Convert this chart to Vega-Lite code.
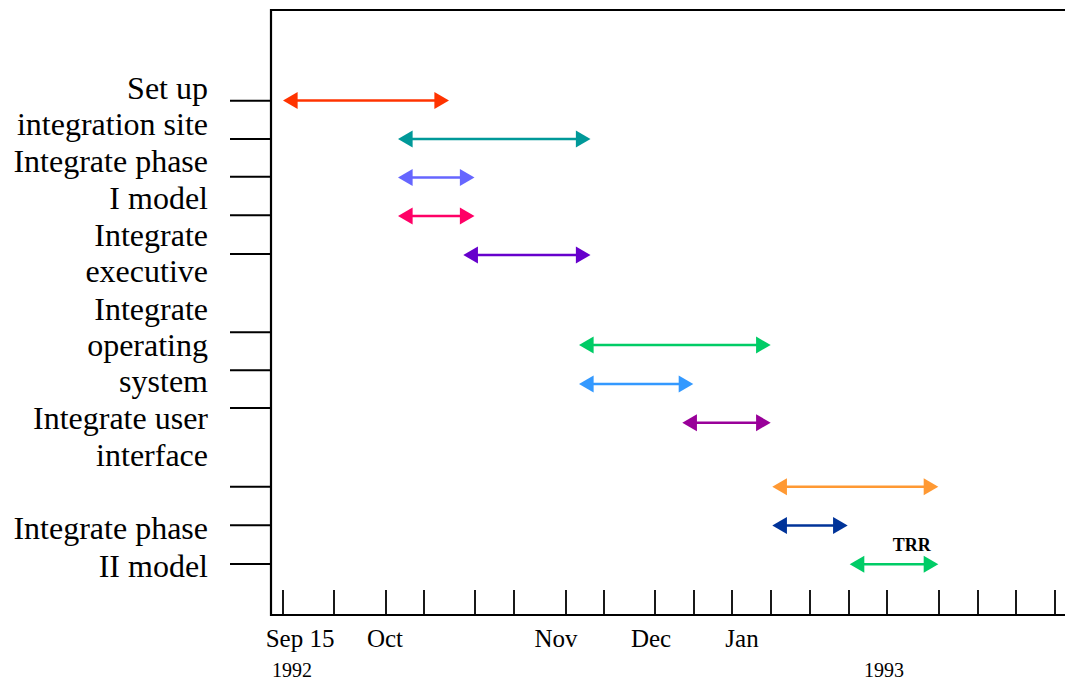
{
  "$schema": "https://vega.github.io/schema/vega-lite/v6.json",
  "autosize": {"type": "none"},
  "padding": {"left": 271, "top": 10, "right": 0, "bottom": 66},
  "width": 794,
  "height": 605,
  "config": {"view": {"stroke": null}, "font": "Liberation Serif"},
  "datasets": {
    "tasks": [
      {"task": "Set up integration site", "start": 12, "end": 178, "row": 90.5, "color": "#FF3300"},
      {"task": "Integrate phase I model (a)", "start": 127, "end": 319.5, "row": 129, "color": "#009999"},
      {"task": "Integrate phase I model (b)", "start": 127, "end": 203.5, "row": 167.5, "color": "#6666FF"},
      {"task": "Integrate phase I model (c)", "start": 127, "end": 203.5, "row": 206, "color": "#FF0066"},
      {"task": "Integrate executive", "start": 192.3, "end": 319.5, "row": 245, "color": "#6600CC"},
      {"task": "Integrate operating system", "start": 308, "end": 499.7, "row": 335, "color": "#00CC66"},
      {"task": "Integrate operating system (b)", "start": 308, "end": 422.3, "row": 374, "color": "#3399FF"},
      {"task": "Integrate user interface", "start": 411.3, "end": 499.7, "row": 412.7, "color": "#990099"},
      {"task": "Integrate phase II model (a)", "start": 501.3, "end": 667.3, "row": 476.7, "color": "#FF9933"},
      {"task": "Integrate phase II model (b)", "start": 501.3, "end": 576.7, "row": 515.5, "color": "#003399"},
      {"task": "TRR", "start": 578.7, "end": 667.3, "row": 554.3, "color": "#00CC66"}
    ],
    "xticks": [
      {"pos": 12}, {"pos": 63}, {"pos": 115}, {"pos": 153}, {"pos": 204}, {"pos": 243}, {"pos": 295},
      {"pos": 333}, {"pos": 384}, {"pos": 423}, {"pos": 461}, {"pos": 500}, {"pos": 539}, {"pos": 578},
      {"pos": 616}, {"pos": 668}, {"pos": 707}, {"pos": 745}, {"pos": 784}
    ],
    "yticks": [
      {"row": 90.7}, {"row": 129}, {"row": 166.7}, {"row": 205.3}, {"row": 244}, {"row": 322.3},
      {"row": 360.3}, {"row": 398}, {"row": 476.7}, {"row": 515.3}, {"row": 554}
    ],
    "rowlabels": [
      {"label": "Set up", "row": 88.5},
      {"label": "integration site", "row": 125},
      {"label": "Integrate phase", "row": 162},
      {"label": "I model", "row": 199},
      {"label": "Integrate", "row": 236},
      {"label": "executive", "row": 272},
      {"label": "Integrate", "row": 310},
      {"label": "operating", "row": 346},
      {"label": "system", "row": 382},
      {"label": "Integrate user", "row": 419},
      {"label": "interface", "row": 456},
      {"label": "Integrate phase", "row": 528.5},
      {"label": "II model", "row": 567}
    ],
    "months": [
      {"label": "Sep 15", "pos": 29},
      {"label": "Oct", "pos": 114},
      {"label": "Nov", "pos": 285},
      {"label": "Dec", "pos": 380},
      {"label": "Jan", "pos": 471}
    ],
    "years": [
      {"label": "1992", "pos": 21},
      {"label": "1993", "pos": 613}
    ],
    "notes": [
      {"label": "TRR", "pos": 640.7, "row": 540.7}
    ],
    "frame": [
      {"x1": 0, "x2": 794, "y1": 0, "y2": 0},
      {"x1": 0, "x2": 794, "y1": 605, "y2": 605},
      {"x1": 0, "x2": 0, "y1": -1, "y2": 606}
    ]
  },
  "layer": [
    {
      "data": {"name": "frame"},
      "mark": {"type": "rule", "color": "black", "strokeWidth": 2.2},
      "encoding": {
        "x": {"field": "x1", "type": "quantitative", "scale": {"domain": [0, 794], "nice": false, "zero": false}, "axis": null},
        "x2": {"field": "x2"},
        "y": {"field": "y1", "type": "quantitative", "scale": {"domain": [0, 605], "reverse": true, "nice": false, "zero": false}, "axis": null},
        "y2": {"field": "y2"}
      }
    },
    {
      "data": {"name": "yticks"},
      "mark": {"type": "rule", "color": "black", "strokeWidth": 2},
      "encoding": {
        "x": {"datum": -41, "type": "quantitative", "axis": null},
        "x2": {"datum": -1},
        "y": {"field": "row", "type": "quantitative", "axis": null}
      }
    },
    {
      "data": {"name": "xticks"},
      "mark": {"type": "rule", "color": "black", "strokeWidth": 1.8},
      "encoding": {
        "x": {"field": "pos", "type": "quantitative", "axis": null},
        "y": {"datum": 580, "type": "quantitative", "axis": null},
        "y2": {"datum": 605}
      }
    },
    {
      "data": {"name": "tasks"},
      "mark": {"type": "rule", "strokeWidth": 2.5, "xOffset": 8, "x2Offset": -8},
      "encoding": {
        "x": {"field": "start", "type": "quantitative", "axis": null},
        "x2": {"field": "end"},
        "y": {"field": "row", "type": "quantitative", "axis": null},
        "color": {"field": "color", "type": "nominal", "scale": null}
      }
    },
    {
      "data": {"name": "tasks"},
      "mark": {"type": "point", "shape": "triangle-left", "filled": true, "opacity": 1, "size": 285, "xOffset": 7.3, "strokeWidth": 0},
      "encoding": {
        "x": {"field": "start", "type": "quantitative", "axis": null},
        "y": {"field": "row", "type": "quantitative", "axis": null},
        "color": {"field": "color", "type": "nominal", "scale": null}
      }
    },
    {
      "data": {"name": "tasks"},
      "mark": {"type": "point", "shape": "triangle-right", "filled": true, "opacity": 1, "size": 285, "xOffset": -7.3, "strokeWidth": 0},
      "encoding": {
        "x": {"field": "end", "type": "quantitative", "axis": null},
        "y": {"field": "row", "type": "quantitative", "axis": null},
        "color": {"field": "color", "type": "nominal", "scale": null}
      }
    },
    {
      "data": {"name": "rowlabels"},
      "mark": {"type": "text", "align": "right", "baseline": "alphabetic", "fontSize": 32, "font": "Liberation Serif", "color": "black"},
      "encoding": {
        "x": {"datum": -63, "type": "quantitative", "axis": null},
        "y": {"field": "row", "type": "quantitative", "axis": null},
        "text": {"field": "label"}
      }
    },
    {
      "data": {"name": "months"},
      "mark": {"type": "text", "align": "center", "baseline": "alphabetic", "fontSize": 25, "font": "Liberation Serif", "color": "black"},
      "encoding": {
        "x": {"field": "pos", "type": "quantitative", "axis": null},
        "y": {"datum": 636.7, "type": "quantitative", "axis": null},
        "text": {"field": "label"}
      }
    },
    {
      "data": {"name": "years"},
      "mark": {"type": "text", "align": "center", "baseline": "alphabetic", "fontSize": 20, "font": "Liberation Serif", "color": "black"},
      "encoding": {
        "x": {"field": "pos", "type": "quantitative", "axis": null},
        "y": {"datum": 667, "type": "quantitative", "axis": null},
        "text": {"field": "label"}
      }
    },
    {
      "data": {"name": "notes"},
      "mark": {"type": "text", "align": "center", "baseline": "alphabetic", "fontSize": 18, "fontWeight": "bold", "font": "Liberation Serif", "color": "black"},
      "encoding": {
        "x": {"field": "pos", "type": "quantitative", "axis": null},
        "y": {"field": "row", "type": "quantitative", "axis": null},
        "text": {"field": "label"}
      }
    }
  ]
}
